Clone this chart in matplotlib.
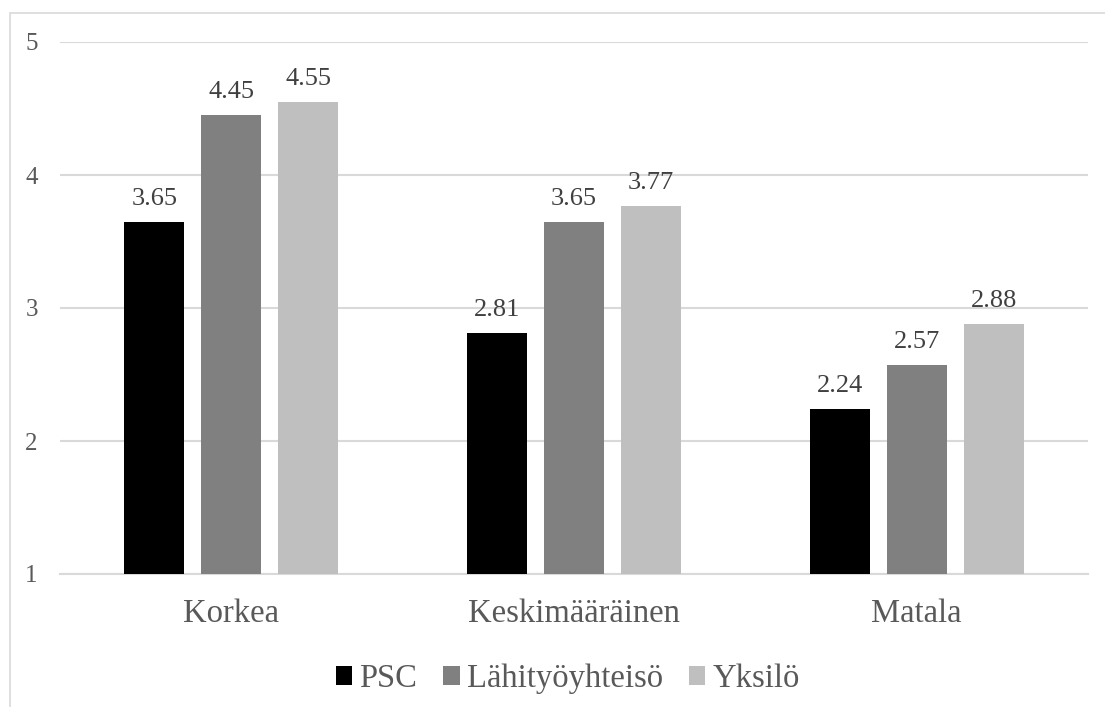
import matplotlib.pyplot as plt
import numpy as np
from matplotlib.patches import Rectangle

plt.rcParams['font.family'] = ['Liberation Serif', 'DejaVu Serif']

categories = ['Korkea', 'Keskimääräinen', 'Matala']
series_names = ['PSC', 'Lähityöyhteisö', 'Yksilö']
psc = [3.65, 2.81, 2.24]
lahityoyhteiso = [4.45, 3.65, 2.57]
yksilo = [4.55, 3.77, 2.88]
y_ticks = [1, 2, 3, 4, 5]

colors = ['#000000', '#808080', '#bfbfbf']
text_gray = '#595959'

fig = plt.figure(figsize=(11.05, 7.07), dpi=100)
# outer chart frame
fig.patches.append(Rectangle((10 / 1105, -0.1), 1.2, 1 - 13 / 707 + 0.1,
                             transform=fig.transFigure, fill=False,
                             edgecolor='#d9d9d9', linewidth=1.2))

ax = fig.add_axes([60 / 1105, 1 - 574 / 707, 1028 / 1105, 532 / 707])

x = np.arange(len(categories))
width = 0.175
step = 0.2247
for i, (name, vals) in enumerate(zip(series_names, [psc, lahityoyhteiso, yksilo])):
    pos = x + (i - 1) * step
    ax.bar(pos, [v - 1 for v in vals], width, bottom=1, color=colors[i],
           label=name, zorder=3)
    for p, v in zip(pos, vals):
        ax.text(p, v + 0.09, f'{v:.2f}', ha='center', va='bottom',
                fontsize=19, color='#404040')

ax.set_xlim(-0.5, 2.5)
ax.set_ylim(1, 5)
ax.set_yticks(y_ticks)
ax.set_yticklabels([str(t) for t in y_ticks], fontsize=18, color=text_gray)
ax.tick_params(axis='y', length=0, pad=16)
ax.set_xticks(x)
ax.set_xticklabels(categories, fontsize=23.5, color=text_gray)
ax.tick_params(axis='x', length=0, pad=18)
ax.grid(axis='y', color='#d9d9d9', linewidth=1.5, zorder=0)
for s in ['top', 'right', 'left']:
    ax.spines[s].set_visible(False)
ax.spines['bottom'].set_color('#d9d9d9')
ax.spines['bottom'].set_linewidth(1.5)

leg = ax.legend(loc='center', bbox_to_anchor=(0.5 - 6 / 1028, -0.197), ncol=3,
                frameon=False, fontsize=23.5, handlelength=0.5, handleheight=0.5,
                handletextpad=0.22, columnspacing=0.8)
for t in leg.get_texts():
    t.set_color(text_gray)

fig.savefig('out.png', dpi=100)
